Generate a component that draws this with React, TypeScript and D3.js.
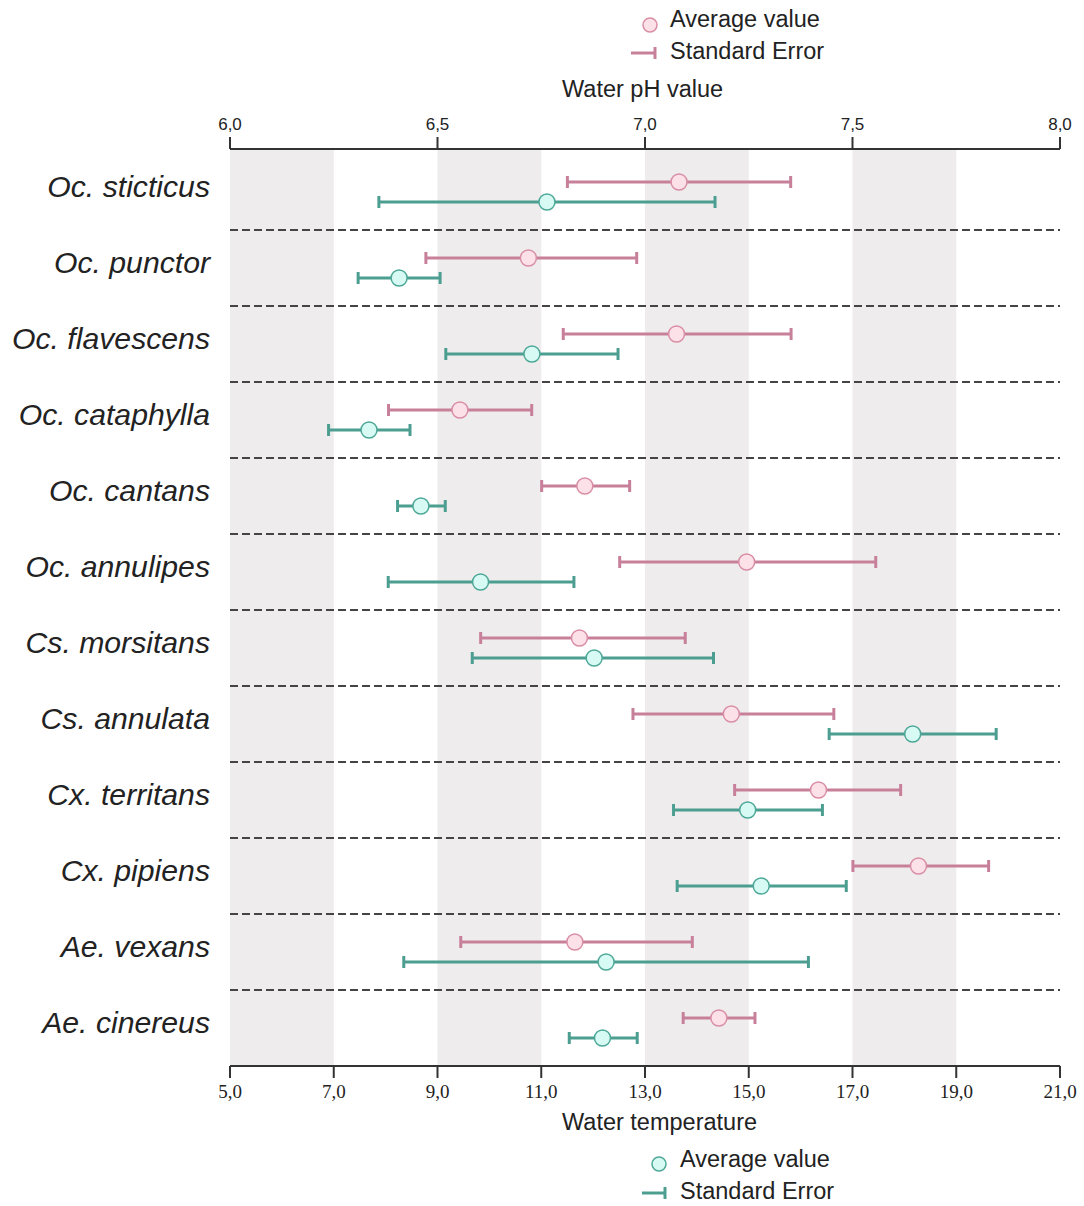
import React from "react";
import * as d3 from "d3";

const species = [
  "Oc. sticticus", "Oc. punctor", "Oc. flavescens", "Oc. cataphylla", "Oc. cantans",
  "Oc. annulipes", "Cs. morsitans", "Cs. annulata", "Cx. territans", "Cx. pipiens",
  "Ae. vexans", "Ae. cinereus",
];
// Water pH: mean, lower, upper
const phMean = [7.082, 6.719, 7.076, 6.554, 6.855, 7.245, 6.842, 7.208, 7.418, 7.659, 6.831, 7.178];
const phLow  = [6.813, 6.472, 6.803, 6.382, 6.751, 6.939, 6.604, 6.971, 7.216, 7.501, 6.556, 7.092];
const phHigh = [7.351, 6.980, 7.352, 6.727, 6.963, 7.556, 7.097, 7.455, 7.616, 7.828, 7.114, 7.265];
// Water temperature: mean, lower, upper
const tMean = [11.11, 8.26, 10.82, 7.68, 8.68, 9.83, 12.02, 18.16, 14.98, 15.24, 12.25, 12.18];
const tLow  = [7.87, 7.47, 9.16, 6.90, 8.23, 8.05, 9.67, 16.55, 13.55, 13.62, 8.35, 11.54];
const tHigh = [14.35, 9.05, 12.48, 8.47, 9.15, 11.63, 14.32, 19.77, 16.42, 16.88, 16.15, 12.85];

const phTicks = [6.0, 6.5, 7.0, 7.5, 8.0];
const tTicks = [5, 7, 9, 11, 13, 15, 17, 19, 21];
const bands = [[5, 7], [9, 11], [13, 15], [17, 19]];

const PINK = "#c8809a";
const PINK_FILL = "#fde1e8";
const PINK_STROKE = "#d98ea6";
const TEAL = "#4c9e91";
const TEAL_FILL = "#d7fbf4";
const TEAL_STROKE = "#4ea897";

export default function App() {
  const W = 1084, H = 1206;
  const x0 = 230, x1 = 1060;
  const topY = 149, botY = 1066, rowTop = 154;
  const ph = d3.scaleLinear().domain([6, 8]).range([x0, x1]);
  const tp = d3.scaleLinear().domain([5, 21]).range([x0, x1]);
  const y = d3.scaleBand<string>().domain(species).range([rowTop, botY]);
  const bw = y.bandwidth();
  const cap = 6;
  const sans = "'Liberation Sans', Arial, sans-serif";
  const serif = "'Liberation Serif', 'DejaVu Serif', serif";

  const errBar = (lo: number, hi: number, m: number, cy: number, line: string, fill: string, stroke: string, key: string) => (
    <g key={key}>
      <line x1={lo} x2={hi} y1={cy} y2={cy} stroke={line} strokeWidth={3} />
      <line x1={lo} x2={lo} y1={cy - cap} y2={cy + cap} stroke={line} strokeWidth={3} />
      <line x1={hi} x2={hi} y1={cy - cap} y2={cy + cap} stroke={line} strokeWidth={3} />
      <circle cx={m} cy={cy} r={8} fill={fill} stroke={stroke} strokeWidth={1.5} />
    </g>
  );

  return (
    <div style={{ position: "absolute", left: 0, top: 0 }}>
      <svg width={W} height={H} style={{ display: "block", background: "#fff" }}>
        {bands.map(([a, b], i) => (
          <rect key={i} x={tp(a)} y={topY} width={tp(b) - tp(a)} height={botY - topY} fill="#eeeced" />
        ))}
        {species.slice(1).map((s) => (
          <line key={s} x1={x0} x2={x1} y1={y(s)!} y2={y(s)!} stroke="#444" strokeWidth={2} strokeDasharray="8,4" />
        ))}
        {/* top axis */}
        <line x1={x0} x2={x1} y1={topY} y2={topY} stroke="#333" strokeWidth={2} />
        {phTicks.map((t) => (
          <g key={t}>
            <line x1={ph(t)} x2={ph(t)} y1={topY - 12} y2={topY} stroke="#333" strokeWidth={2} />
            <text x={ph(t)} y={topY - 19} textAnchor="middle" fontFamily={sans} fontSize={17} fill="#222">
              {t.toFixed(1).replace(".", ",")}
            </text>
          </g>
        ))}
        <text x={562} y={97} fontFamily={sans} fontSize={23.5} fill="#222">Water pH value</text>
        {/* bottom axis */}
        <line x1={x0} x2={x1} y1={botY} y2={botY} stroke="#333" strokeWidth={2} />
        {tTicks.map((t) => (
          <g key={t}>
            <line x1={tp(t)} x2={tp(t)} y1={botY} y2={botY + 12} stroke="#333" strokeWidth={2} />
            <text x={tp(t)} y={botY + 32} textAnchor="middle" fontFamily={serif} fontSize={19} fill="#222">
              {t.toFixed(1).replace(".", ",")}
            </text>
          </g>
        ))}
        <text x={562} y={1130} fontFamily={sans} fontSize={23.5} fill="#222">Water temperature</text>
        {/* labels and bars */}
        {species.map((s, i) => {
          const cy = y(s)! + bw / 2;
          return (
            <g key={s}>
              <text x={210} y={cy - 6} dy="0.35em" textAnchor="end" fontFamily={sans} fontStyle="italic" fontSize={30.2} fill="#222">
                {s}
              </text>
              {errBar(ph(phLow[i]), ph(phHigh[i]), ph(phMean[i]), cy - 10, PINK, PINK_FILL, PINK_STROKE, "p")}
              {errBar(tp(tLow[i]), tp(tHigh[i]), tp(tMean[i]), cy + 10, TEAL, TEAL_FILL, TEAL_STROKE, "t")}
            </g>
          );
        })}
        {/* top legend */}
        <circle cx={650} cy={25} r={7} fill={PINK_FILL} stroke={PINK_STROKE} strokeWidth={1.5} />
        <text x={670} y={27} fontFamily={sans} fontSize={23.5} fill="#222">Average value</text>
        <line x1={631} x2={656} y1={53} y2={53} stroke={PINK} strokeWidth={3} />
        <line x1={655} x2={655} y1={47} y2={59} stroke={PINK} strokeWidth={3} />
        <text x={670} y={59} fontFamily={sans} fontSize={23.5} fill="#222">Standard Error</text>
        {/* bottom legend */}
        <circle cx={659} cy={1164} r={7} fill={TEAL_FILL} stroke={TEAL_STROKE} strokeWidth={1.5} />
        <text x={680} y={1167} fontFamily={sans} fontSize={23.5} fill="#222">Average value</text>
        <line x1={642} x2={666} y1={1193} y2={1193} stroke={TEAL} strokeWidth={3} />
        <line x1={665} x2={665} y1={1187} y2={1199} stroke={TEAL} strokeWidth={3} />
        <text x={680} y={1199} fontFamily={sans} fontSize={23.5} fill="#222">Standard Error</text>
      </svg>
    </div>
  );
}
